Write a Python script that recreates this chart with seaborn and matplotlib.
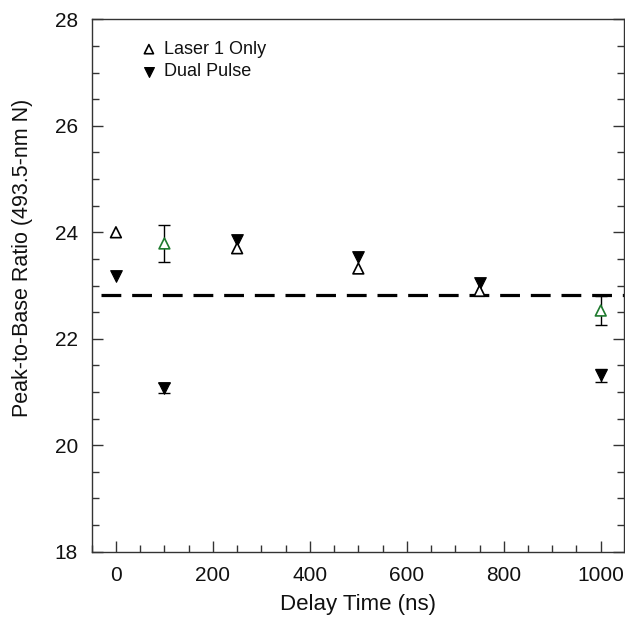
import numpy as np
import pandas as pd
import matplotlib
matplotlib.use("Agg")
import matplotlib.pyplot as plt
import seaborn as sns
from matplotlib.ticker import MultipleLocator

# data
delay = [0, 100, 250, 500, 750, 1000]
laser_only = [24.00, 23.79, 23.70, 23.32, 22.90, 22.53]
laser_err = [0.0, 0.34, 0.0, 0.0, 0.0, 0.28]
dual_pulse = [23.17, 21.07, 23.85, 23.54, 23.05, 21.31]
dual_err = [0.0, 0.09, 0.0, 0.0, 0.0, 0.12]
laser_edge = ["black", "#1e7a2e", "black", "black", "black", "#1e7a2e"]
baseline = 22.83

sns.set_theme(style="ticks", rc={"text.color": "#111111", "axes.labelcolor": "#111111",
                                 "xtick.color": "#111111", "ytick.color": "#111111"})
plt.rcParams["font.family"] = ["Liberation Sans", "DejaVu Sans"]

df = pd.DataFrame({"delay": delay, "laser": laser_only, "laser_err": laser_err,
                   "dual": dual_pulse, "dual_err": dual_err})

fig = plt.figure(figsize=(6.25, 6.17), dpi=100)
ax = fig.add_axes([0.1467, 0.1058, 0.8517, 0.8629])

# dashed reference level
ax.hlines(baseline, -30, 1048, colors="black", linestyles=(0, (6.2, 3.4)), linewidth=2.3, zorder=1)

# error bars (only where an error is shown)
le = df[df["laser_err"] > 0]
de = df[df["dual_err"] > 0]
ax.errorbar(le["delay"], le["laser"], yerr=le["laser_err"], fmt="none",
            ecolor="black", elinewidth=1.0, capsize=4, capthick=1.0, zorder=2)
ax.errorbar(de["delay"], de["dual"], yerr=de["dual_err"], fmt="none",
            ecolor="black", elinewidth=1.0, capsize=4, capthick=1.0, zorder=2)

sns.scatterplot(data=df, x="delay", y="dual", marker="v", s=70, color="black",
                edgecolor="black", linewidth=0.8, ax=ax, zorder=3, label="Dual Pulse")
sns.scatterplot(data=df, x="delay", y="laser", marker="^", s=60, facecolors="white",
                edgecolor=laser_edge, linewidth=1.2, ax=ax, zorder=4, label="Laser 1 Only")

ax.set_xlim(-50, 1048)
ax.set_ylim(18, 28)
ax.xaxis.set_major_locator(MultipleLocator(200))
ax.xaxis.set_minor_locator(MultipleLocator(50))
ax.yaxis.set_major_locator(MultipleLocator(2))
ax.yaxis.set_minor_locator(MultipleLocator(0.5))
ax.tick_params(which="both", direction="in", labelsize=15, right=True, top=False,
               width=1.0, color="#333333")
ax.tick_params(which="major", length=8, pad=10)
ax.tick_params(which="minor", length=5)
for sp in ax.spines.values():
    sp.set_linewidth(1.0)
    sp.set_color("#333333")

ax.set_xlabel("Delay Time (ns)", fontsize=16, labelpad=7)
ax.set_ylabel("Peak-to-Base Ratio (493.5-nm N)", fontsize=15.5)
ax.yaxis.set_label_coords(-0.11, 0.552)

h, l = ax.get_legend_handles_labels()
ax.legend(h[::-1], l[::-1], loc="upper left", bbox_to_anchor=(0.06, 0.99), frameon=False,
          fontsize=13, handletextpad=0.35, labelspacing=0.3, handlelength=1.0,
          markerscale=0.85)

fig.savefig("out.png", dpi=100)
